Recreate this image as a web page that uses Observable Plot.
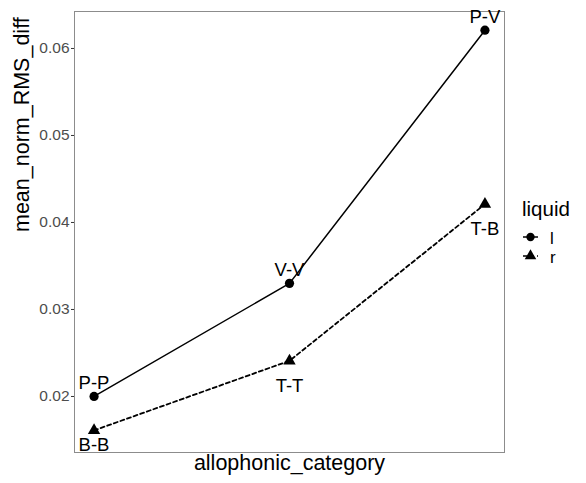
<!DOCTYPE html>
<html>
<head>
<meta charset="utf-8">
<script src="https://cdn.jsdelivr.net/npm/d3@7"></script>
<script src="https://cdn.jsdelivr.net/npm/@observablehq/plot@0.6"></script>
<style>
  body { margin: 0; background: #fff; font-family: "Liberation Sans", Arial, sans-serif; }
  #wrap { position: relative; width: 586px; height: 483px; }
  #legend { position: absolute; left: 0; top: 0; }
</style>
</head>
<body>
<div id="wrap"></div>
<script>
// Data
const positions = [1, 2, 3];
const liquids = ["l", "r"];
const labelsL = ["P-P", "V-V", "P-V"];
const labelsR = ["B-B", "T-T", "T-B"];
const valuesL = [0.0200, 0.0330, 0.0621];
const valuesR = [0.0161, 0.0241, 0.0421];
const yTicks = [0.02, 0.03, 0.04, 0.05, 0.06];

const data = [
  ...positions.map((p, i) => ({pos: p, value: valuesL[i], label: labelsL[i], liquid: "l"})),
  ...positions.map((p, i) => ({pos: p, value: valuesR[i], label: labelsR[i], liquid: "r"}))
];
const dataL = data.filter(d => d.liquid === "l");
const dataR = data.filter(d => d.liquid === "r");

const font = "Liberation Sans, Arial, sans-serif";

const chart = Plot.plot({
  width: 586,
  height: 483,
  marginLeft: 74,
  marginRight: 82,
  marginTop: 11,
  marginBottom: 31,
  style: {fontFamily: font, background: "#fff"},
  x: {domain: [0.9, 3.1], axis: null},
  y: {domain: [0.01356, 0.06425], axis: null},
  marks: [
    Plot.frame({stroke: "#8c8c8c", strokeWidth: 1}),
    Plot.axisY({ticks: yTicks, tickFormat: d3.format(".2f"), tickSize: 3, tickPadding: 2,
      fontSize: 15.5, color: "#4d4d4d", stroke: "#333", label: null}),
    Plot.line(dataL, {x: "pos", y: "value", stroke: "#000", strokeWidth: 1.5}),
    Plot.line(dataR, {x: "pos", y: "value", stroke: "#000", strokeWidth: 1.8, strokeDasharray: "4,3"}),
    Plot.dot(dataL, {x: "pos", y: "value", symbol: "circle", r: 4.6, fill: "#000"}),
    Plot.dot(dataR, {x: "pos", y: "value", symbol: "triangle", r: 4.6, fill: "#000"}),
    Plot.text(dataL, {x: "pos", y: "value", text: "label", dy: -13, fontSize: 18.5, fill: "#000"}),
    Plot.text(dataR.filter(d => d.pos !== 1), {x: "pos", y: "value", text: "label", dy: 25, fontSize: 18.5, fill: "#000"}),
    Plot.text(dataR.filter(d => d.pos === 1), {x: "pos", y: "value", text: "label", dy: 15, fontSize: 18.5, fill: "#000"}),
    Plot.text(["mean_norm_RMS_diff"], {frameAnchor: "left", dx: -52, rotate: -90, fontSize: 21.5, fill: "#000"}),
    Plot.text(["allophonic_category"], {frameAnchor: "bottom", dy: 17, fontSize: 21.5, fill: "#000"})
  ]
});
document.getElementById("wrap").appendChild(chart);

// Legend
const leg = d3.select("#wrap").append("svg")
  .attr("id", "legend").attr("width", 586).attr("height", 483)
  .style("pointer-events", "none")
  .style("font-family", font);
leg.append("text").attr("x", 522).attr("y", 216).attr("font-size", 20.5).text("liquid");
const sym = {l: d3.symbolCircle, r: d3.symbolTriangle};
const sz = {l: 55, r: 58};
const keyY = {l: 237, r: 256};
liquids.forEach(lq => {
  const y = keyY[lq];
  const g = leg.append("g");
  g.append("line").attr("x1", 523).attr("x2", 538).attr("y1", y).attr("y2", y)
    .attr("stroke", "#000").attr("stroke-width", 1.5)
    .attr("stroke-dasharray", lq === "r" ? "4,3" : null);
  g.append("path").attr("d", d3.symbol(sym[lq], sz[lq])()).attr("transform", `translate(530.5,${y})`).attr("fill", "#000");
  g.append("text").attr("x", 550).attr("y", y + 6.5).attr("font-size", 17).text(lq);
});
</script>
</body>
</html>
